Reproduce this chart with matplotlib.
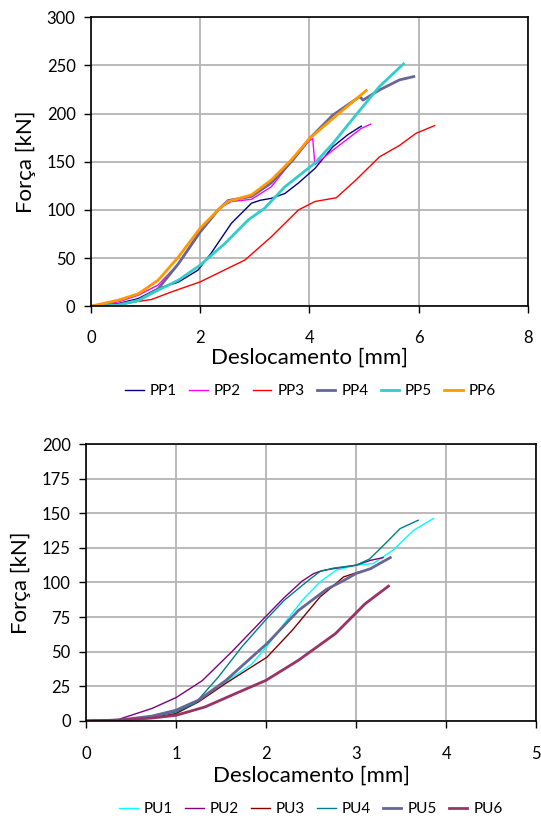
import matplotlib
matplotlib.use("Agg")
import matplotlib.pyplot as plt

plt.rcParams["font.family"] = ["Lato", "DejaVu Sans"]

# ---- top chart data (PP series) ----
pp1_x = [0, 0.5, 0.87, 1.23, 1.6, 1.96, 2.2, 2.57, 2.94, 3.1, 3.3, 3.55, 3.8, 4.1, 4.43, 4.7, 4.95]
pp1_y = [0, 2.8, 8, 18.4, 25, 37.5, 55, 86, 107, 110, 112, 117, 128, 143, 165.6, 178, 187]
pp2_x = [0, 0.5, 0.87, 1.23, 1.6, 2.0, 2.36, 2.57, 2.94, 3.3, 3.67, 4.0, 4.06, 4.1, 4.43, 4.95, 5.12]
pp2_y = [0, 4.5, 11.5, 22, 44, 79, 102, 108.7, 111, 124, 150, 172, 174, 147, 162, 184.7, 189]
pp3_x = [0, 0.5, 1.11, 1.48, 2.0, 2.82, 3.3, 3.8, 4.1, 4.49, 4.85, 5.28, 5.65, 5.95, 6.29]
pp3_y = [0, 2, 7, 15, 25.3, 48, 72, 100, 108.7, 112.6, 131, 155, 167, 179.5, 187.5]
pp4_x = [0, 0.5, 0.87, 1.23, 1.6, 2.0, 2.33, 2.51, 2.94, 3.3, 3.7, 4.0, 4.43, 4.92, 4.98, 5.28, 5.65, 5.91]
pp4_y = [0, 1.7, 6, 18, 44, 77, 100, 109.7, 114, 128, 152, 174, 198.5, 217.6, 214, 224.5, 235, 238.4]
pp5_x = [0, 0.5, 0.87, 1.23, 1.6, 2.0, 2.45, 2.88, 3.18, 3.55, 4.1, 4.43, 4.85, 5.28, 5.72]
pp5_y = [0, 1, 6, 16.7, 27, 42.7, 65, 89.6, 101.7, 124, 148.6, 169, 198.5, 228, 251.5]
pp6_x = [0, 0.5, 0.87, 1.23, 1.6, 2.0, 2.33, 2.51, 2.94, 3.3, 3.67, 4.0, 4.43, 5.04]
pp6_y = [0, 6.3, 13, 27, 51, 81, 100, 108.7, 115.6, 131, 152, 174, 195, 224]

# ---- bottom chart data (PU series) ----
pu1_x = [0, 0.36, 0.73, 1.0, 1.25, 1.55, 1.84, 2.01, 2.21, 2.4, 2.6, 2.78, 3.0, 3.19, 3.41, 3.64, 3.86]
pu1_y = [0, 0.3, 2, 5.3, 15, 28, 41, 54, 71, 87, 100.5, 109, 112.5, 113.7, 123.4, 137.8, 146.3]
pu2_x = [0, 0.36, 0.73, 1.0, 1.29, 1.62, 1.99, 2.2, 2.4, 2.53, 2.62, 2.75, 3.0, 3.16, 3.3]
pu2_y = [0, 1, 8.9, 16.8, 29, 50, 75, 89, 101, 106.5, 108.5, 110, 112.5, 116, 118]
pu3_x = [0, 0.36, 0.73, 1.0, 1.25, 1.55, 1.84, 2.01, 2.29, 2.6, 2.73, 2.86, 3.0, 3.17]
pu3_y = [0, 0.3, 2, 5.3, 13.7, 27, 39, 46, 65.4, 89.6, 96.6, 104, 107, 110]
pu4_x = [0, 0.36, 0.73, 1.0, 1.21, 1.47, 1.73, 1.99, 2.2, 2.46, 2.6, 2.75, 3.0, 3.15, 3.27, 3.49, 3.69]
pu4_y = [0, 0.3, 2.9, 6.5, 12.5, 31.7, 53.4, 72.6, 87, 101, 108, 110.4, 112.5, 117, 124.6, 139, 145]
pu5_x = [0, 0.36, 0.73, 1.0, 1.25, 1.55, 1.84, 2.01, 2.36, 2.67, 2.85, 3.0, 3.16, 3.38]
pu5_y = [0, 0.5, 3.4, 7.7, 15, 29, 46, 55.8, 79.8, 95, 101, 106.5, 110, 118]
pu6_x = [0, 0.36, 0.73, 1.0, 1.32, 1.66, 2.0, 2.36, 2.77, 3.1, 3.36]
pu6_y = [0, 0.5, 2, 4, 10, 19.7, 29.3, 43.8, 63, 84.6, 97.4]

top_series = [
    ("PP1", pp1_x, pp1_y, "#000080", 1.0),
    ("PP2", pp2_x, pp2_y, "#ff00ff", 1.0),
    ("PP3", pp3_x, pp3_y, "#ff0000", 1.0),
    ("PP4", pp4_x, pp4_y, "#666699", 2.0),
    ("PP5", pp5_x, pp5_y, "#33cccc", 2.0),
    ("PP6", pp6_x, pp6_y, "#ff9900", 2.0),
]
bottom_series = [
    ("PU1", pu1_x, pu1_y, "#00ffff", 1.0),
    ("PU2", pu2_x, pu2_y, "#800080", 1.0),
    ("PU3", pu3_x, pu3_y, "#800000", 1.0),
    ("PU4", pu4_x, pu4_y, "#008080", 1.0),
    ("PU5", pu5_x, pu5_y, "#666699", 2.0),
    ("PU6", pu6_x, pu6_y, "#993366", 2.0),
]


def style_axes(ax, xmax, xstep, ymax, ystep, xpad, xlabpad):
    ax.set_xlim(0, xmax)
    ax.set_ylim(0, ymax)
    ax.set_xticks(range(0, xmax + 1, xstep))
    ax.set_yticks(range(0, ymax + 1, ystep))
    ax.grid(True, color="#b4b4b4", linewidth=1.3)
    ax.set_axisbelow(True)
    for s in ax.spines.values():
        s.set_color("black")
        s.set_linewidth(1.2)
    ax.tick_params(direction="out", length=5, width=1, labelsize=12)
    ax.tick_params(axis="y", pad=6)
    ax.tick_params(axis="x", pad=xpad)
    ax.set_xlabel("Deslocamento [mm]", fontsize=16, labelpad=xlabpad)
    ax.set_ylabel("Força [kN]", fontsize=16, labelpad=8)


fig = plt.figure(figsize=(5.41, 8.21), dpi=100)
ax1 = fig.add_axes([0.168, 0.627, 0.808, 0.352])
ax2 = fig.add_axes([0.159, 0.122, 0.832, 0.337])

for name, x, y, c, lw in top_series:
    ax1.plot(x, y, color=c, lw=lw, label=name)
style_axes(ax1, 8, 2, 300, 50, 12, 1)
ax1.legend(loc="center", bbox_to_anchor=(0.503, -0.294), ncol=6, frameon=False,
           fontsize=11, handlelength=1.2, handletextpad=0.4, columnspacing=0.8)

for name, x, y, c, lw in bottom_series:
    ax2.plot(x, y, color=c, lw=lw, label=name)
style_axes(ax2, 5, 1, 200, 25, 13, 3)
ax2.legend(loc="center", bbox_to_anchor=(0.5, -0.32), ncol=6, frameon=False,
           fontsize=11, handlelength=1.2, handletextpad=0.4, columnspacing=0.8)

fig.savefig("out.png", dpi=100)
